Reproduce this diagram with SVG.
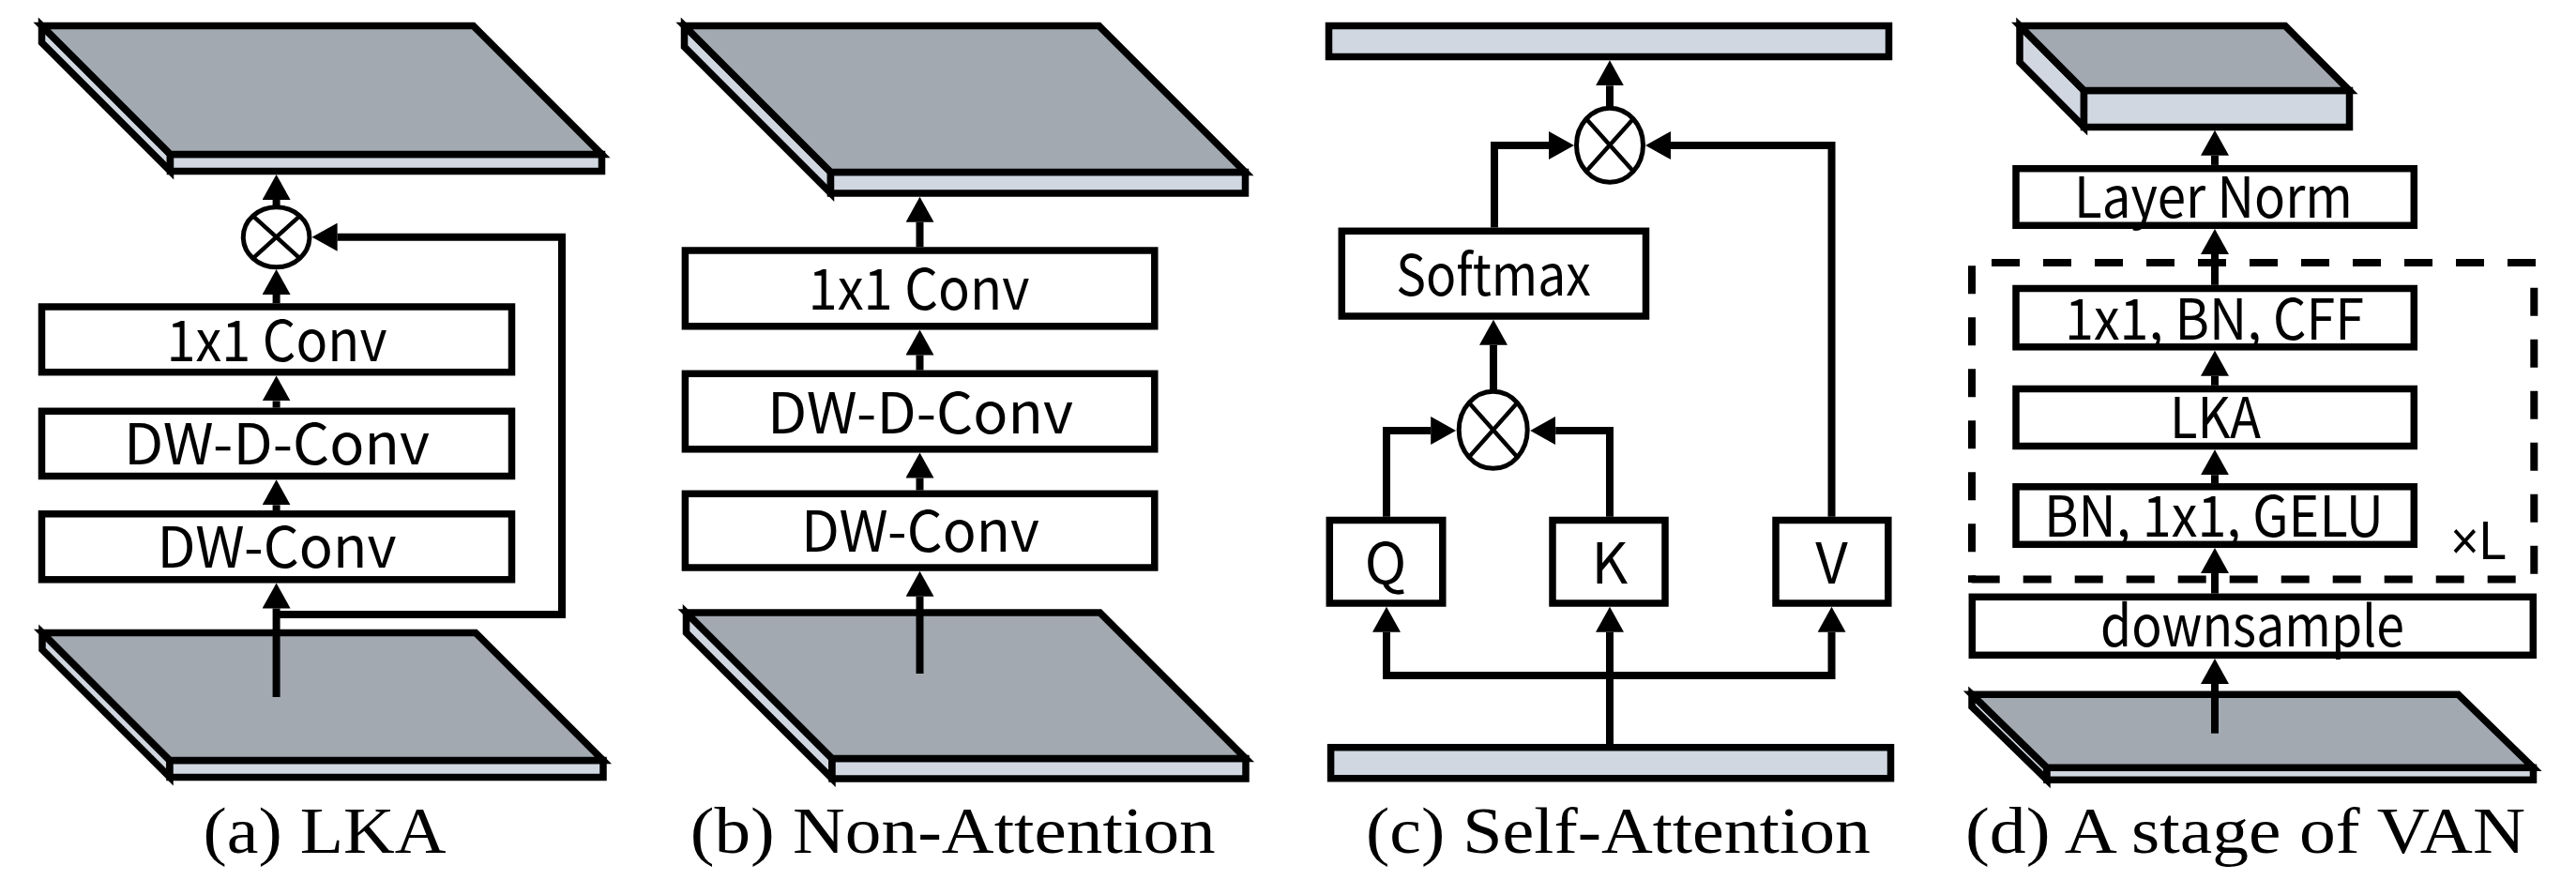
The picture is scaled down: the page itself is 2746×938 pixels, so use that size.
<svg xmlns="http://www.w3.org/2000/svg" width="2746" height="938" viewBox="0 0 2746 938">
<style>
.box{fill:#fff;stroke:#000;stroke-width:7.5}
.topf{fill:#a2a9b1;stroke:#000;stroke-width:7.5;stroke-linejoin:miter}
.side{fill:#d0d7e0;stroke:#000;stroke-width:7.5;stroke-linejoin:miter}
.bar{fill:#d0d7e0;stroke:#000;stroke-width:7.5}
.op{fill:#fff;stroke:#000;stroke-width:5}
.opx{stroke:#000;stroke-width:4.5;fill:none}
.conn{fill:none;stroke:#000;stroke-width:8}
.dash{fill:none;stroke:#000;stroke-width:8;stroke-dasharray:30 25}
.lbl{font-family:"Noto Sans CJK SC","Liberation Sans",sans-serif;font-size:60px;font-weight:400;text-anchor:middle;fill:#000}
.xl{font-family:"Liberation Sans",sans-serif;font-size:58px;font-weight:400;fill:#000}
.cap{font-family:"Liberation Serif","Times New Roman",serif;font-size:70px;fill:#000}
</style>
<defs>
<marker id="ah" markerUnits="userSpaceOnUse" viewBox="0 0 27 30" refX="0" refY="15" markerWidth="27" markerHeight="30" orient="auto-start-reverse">
<path d="M0,0 L27,15 L0,30 Z" fill="#000"/>
</marker>
</defs>

<!-- (a) LKA -->
<g id="a-top-slab">
<path class="side" d="M44.5,27.5 L181.5,164.5 V182.5 L44.5,45.5 Z"/>
<rect class="side" x="181.5" y="164.5" width="460" height="18"/>
<path class="topf" d="M44.5,27.5 H504.5 L641.5,164.5 H181.5 Z"/>
</g>
<g id="a-mul">
<ellipse class="op" cx="294.6" cy="252.7" rx="35.3" ry="32"/>
<path class="opx" d="M269.6,230.1 L319.6,275.3 M319.6,230.1 L269.6,275.3"/>
</g>
<g id="a-conv1x1">
<rect class="box" x="44.5" y="327" width="501" height="69.7"/>
<text class="lbl" x="295" y="385" textLength="235" lengthAdjust="spacingAndGlyphs">1x1 Conv</text>
</g>
<g id="a-dwdconv">
<rect class="box" x="44.5" y="438.3" width="501" height="69.2"/>
<text class="lbl" x="295" y="495" textLength="326" lengthAdjust="spacingAndGlyphs">DW-D-Conv</text>
</g>
<g id="a-dwconv">
<rect class="box" x="44.5" y="547.8" width="501" height="70"/>
<text class="lbl" x="295" y="605" textLength="255" lengthAdjust="spacingAndGlyphs">DW-Conv</text>
</g>
<g id="a-bottom-slab">
<path class="side" d="M45,674.5 L181,810.5 V828.5 L45,692.5 Z"/>
<rect class="side" x="181" y="810.5" width="462" height="18"/>
<path class="topf" d="M45,674.5 H507 L643,810.5 H181 Z"/>
</g>
<text id="a-caption" class="cap" x="216.5" y="909" textLength="259" lengthAdjust="spacingAndGlyphs">(a) LKA</text>

<!-- (b) Non-Attention -->
<g id="b-top-slab">
<path class="side" d="M729.5,27.5 L885.5,183.5 V206 L729.5,50 Z"/>
<rect class="side" x="885.5" y="183.5" width="442" height="22.5"/>
<path class="topf" d="M729.5,27.5 H1171.5 L1327.5,183.5 H885.5 Z"/>
</g>
<g id="b-conv1x1">
<rect class="box" x="730.4" y="267" width="500.4" height="80.8"/>
<text class="lbl" x="979.5" y="330" textLength="236" lengthAdjust="spacingAndGlyphs">1x1 Conv</text>
</g>
<g id="b-dwdconv">
<rect class="box" x="730.4" y="398.3" width="500.4" height="80.5"/>
<text class="lbl" x="981" y="461.7" textLength="326" lengthAdjust="spacingAndGlyphs">DW-D-Conv</text>
</g>
<g id="b-dwconv">
<rect class="box" x="730.4" y="526.3" width="500.4" height="78.7"/>
<text class="lbl" x="981" y="588" textLength="254" lengthAdjust="spacingAndGlyphs">DW-Conv</text>
</g>
<g id="b-bottom-slab">
<path class="side" d="M731.5,653 L887,808.5 V830 L731.5,674.5 Z"/>
<rect class="side" x="887" y="808.5" width="441" height="21.5"/>
<path class="topf" d="M731.5,653 H1172.5 L1328,808.5 H887 Z"/>
</g>
<text id="b-caption" class="cap" x="735.7" y="909" textLength="560" lengthAdjust="spacingAndGlyphs">(b) Non-Attention</text>

<!-- (c) Self-Attention -->
<g id="c-top-bar">
<rect class="bar" x="1416.5" y="27.5" width="597" height="33"/>
</g>
<g id="c-mul-top">
<ellipse class="op" cx="1716" cy="154.7" rx="35.5" ry="39.5"/>
<path class="opx" d="M1691,126.8 L1741,182.6 M1741,126.8 L1691,182.6"/>
</g>
<g id="c-softmax">
<rect class="box" x="1430.3" y="246.3" width="324.2" height="90.7"/>
<text class="lbl" x="1592" y="315" textLength="207.5" lengthAdjust="spacingAndGlyphs">Softmax</text>
</g>
<g id="c-mul-low">
<ellipse class="op" cx="1591.7" cy="458.3" rx="36.5" ry="41"/>
<path class="opx" d="M1565.9,429.3 L1617.5,487.3 M1617.5,429.3 L1565.9,487.3"/>
</g>
<g id="c-q">
<rect class="box" x="1417.3" y="554.5" width="120.5" height="88.5"/>
<text class="lbl" x="1477" y="621.7">Q</text>
</g>
<g id="c-k">
<rect class="box" x="1655" y="554.5" width="120" height="88.5"/>
<text class="lbl" x="1716" y="621.7">K</text>
</g>
<g id="c-v">
<rect class="box" x="1893" y="554.5" width="119.8" height="88.5"/>
<text class="lbl" x="1952.5" y="621.7">V</text>
</g>
<g id="c-bottom-bar">
<rect class="bar" x="1418.6" y="796.7" width="596.9" height="33"/>
</g>
<text id="c-caption" class="cap" x="1456" y="909" textLength="538" lengthAdjust="spacingAndGlyphs">(c) Self-Attention</text>

<!-- (d) A stage of VAN -->
<g id="d-top-slab">
<path class="side" d="M2153,27.5 L2221.5,96.5 V135.5 L2153,66.5 Z"/>
<rect class="side" x="2221.5" y="96.5" width="283" height="39"/>
<path class="topf" d="M2153,27.5 H2436 L2504.5,96.5 H2221.5 Z"/>
</g>
<g id="d-layernorm">
<rect class="box" x="2149" y="179.7" width="424.3" height="60.6"/>
<text class="lbl" x="2359.5" y="231.7" textLength="297" lengthAdjust="spacingAndGlyphs">Layer Norm</text>
</g>
<g id="d-repeat">
<path class="dash" d="M2123,280 H2703"/>
<path class="dash" d="M2102,283.3 V621"/>
<path class="dash" d="M2101.7,617.5 H2690"/>
<path class="dash" d="M2701.3,306.7 V612"/>
<text class="xl" x="2612" y="596" textLength="60" lengthAdjust="spacingAndGlyphs">×L</text>
</g>
<g id="d-cff">
<rect class="box" x="2149" y="307.5" width="424.3" height="62.3"/>
<text class="lbl" x="2360.5" y="361.7" textLength="319" lengthAdjust="spacingAndGlyphs">1x1, BN, CFF</text>
</g>
<g id="d-lka">
<rect class="box" x="2149" y="414.5" width="424.3" height="61"/>
<text class="lbl" x="2361.5" y="466.7" textLength="97" lengthAdjust="spacingAndGlyphs">LKA</text>
</g>
<g id="d-gelu">
<rect class="box" x="2149" y="518.8" width="424.3" height="61.5"/>
<text class="lbl" x="2360" y="571.7" textLength="362" lengthAdjust="spacingAndGlyphs">BN, 1x1, GELU</text>
</g>
<g id="d-downsample">
<rect class="box" x="2102.3" y="636.3" width="598" height="62"/>
<text class="lbl" x="2401" y="689.3" textLength="324" lengthAdjust="spacingAndGlyphs">downsample</text>
</g>
<g id="d-bottom-slab">
<path class="side" d="M2102,740.3 L2182,818.3 V831.3 L2102,753.3 Z"/>
<rect class="side" x="2182" y="818.3" width="518.5" height="13"/>
<path class="topf" d="M2102,740.3 H2620.5 L2700.5,818.3 H2182 Z"/>
</g>
<text id="d-caption" class="cap" x="2095" y="909" textLength="597" lengthAdjust="spacingAndGlyphs">(d) A stage of VAN</text>

<!-- connectors -->
<g id="connectors">
<!-- (a) -->
<path class="conn" d="M294.6,743 V648.5" marker-end="url(#ah)"/>
<path class="conn" d="M294.6,655 H599 V252.7 H359.6" marker-end="url(#ah)"/>
<path class="conn" d="M294.6,544 V538.3" marker-end="url(#ah)"/>
<path class="conn" d="M294.6,434.6 V427.4" marker-end="url(#ah)"/>
<path class="conn" d="M294.6,323.3 V314" marker-end="url(#ah)"/>
<path class="conn" d="M294.6,220 V213" marker-end="url(#ah)"/>
<!-- (b) -->
<path class="conn" d="M980.5,718 V635.8" marker-end="url(#ah)"/>
<path class="conn" d="M980.5,522.6 V509.5" marker-end="url(#ah)"/>
<path class="conn" d="M980.5,394.6 V378.5" marker-end="url(#ah)"/>
<path class="conn" d="M980.5,263.3 V236.8" marker-end="url(#ah)"/>
<!-- (c) -->
<path class="conn" d="M1716,793 V673.8" marker-end="url(#ah)"/>
<path class="conn" d="M1478,673.8 V720 H1952.5 V673.8" marker-start="url(#ah)" marker-end="url(#ah)"/>
<path class="conn" d="M1478,550.8 V459 H1525.2" marker-end="url(#ah)"/>
<path class="conn" d="M1716,550.8 V459 H1658.2" marker-end="url(#ah)"/>
<path class="conn" d="M1592,416 V367.8" marker-end="url(#ah)"/>
<path class="conn" d="M1593,242.6 V155 H1651" marker-end="url(#ah)"/>
<path class="conn" d="M1952.5,550.8 V155 H1781" marker-end="url(#ah)"/>
<path class="conn" d="M1716,114 V91.3" marker-end="url(#ah)"/>
<!-- (d) -->
<path class="conn" d="M2361,781.7 V729" marker-end="url(#ah)"/>
<path class="conn" d="M2361,632.6 V611" marker-end="url(#ah)"/>
<path class="conn" d="M2361,515 V506.2" marker-end="url(#ah)"/>
<path class="conn" d="M2361,410.8 V400.7" marker-end="url(#ah)"/>
<path class="conn" d="M2361,303.8 V271" marker-end="url(#ah)"/>
<path class="conn" d="M2361,175.9 V165.8" marker-end="url(#ah)"/>
</g>
</svg>
